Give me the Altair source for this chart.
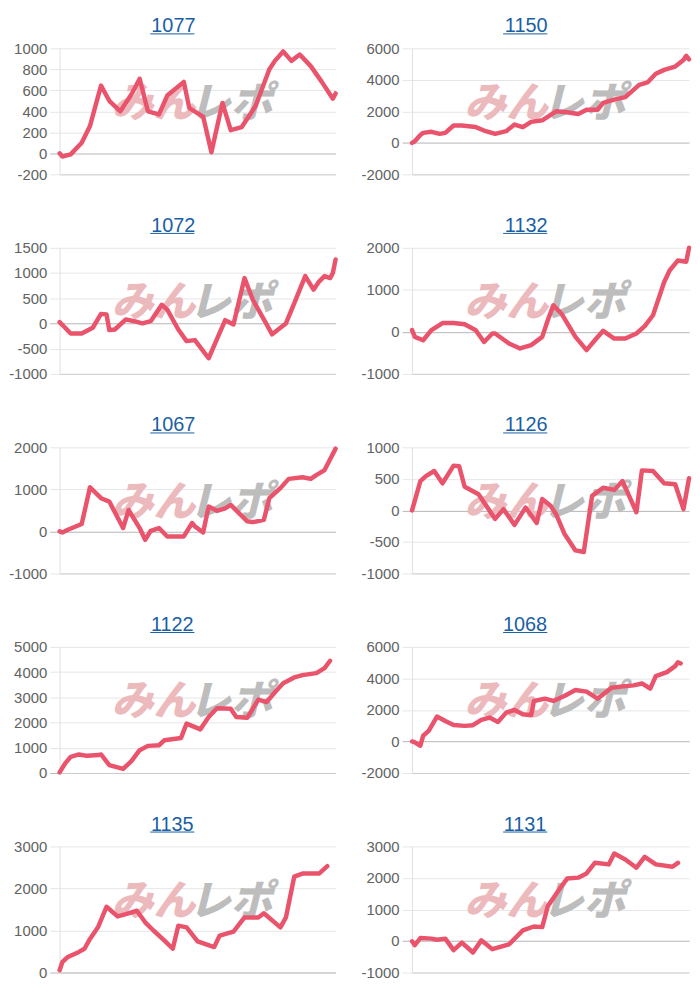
import altair as alt
import pandas as pd

TITLES = ["1077", "1150", "1072", "1132", "1067", "1126", "1122", "1068", "1135", "1131"]

x_1077 = [0, 1, 4, 8, 11, 15, 18, 22, 26, 29, 32, 36, 39, 45, 47, 52, 55, 59, 62, 66, 71, 76, 78, 81, 84, 87, 91, 95, 99, 100]
y_1077 = [0, -30, -10, 100, 260, 645, 500, 400, 560, 710, 400, 370, 550, 680, 430, 350, 10, 480, 220, 250, 450, 800, 880, 970, 880, 940, 830, 680, 520, 570]

x_1150 = [0, 1, 3, 4, 7, 10, 12, 15, 18, 23, 26, 30, 34, 37, 40, 43, 47, 52, 56, 60, 63, 67, 69, 73, 77, 82, 85, 88, 91, 95, 98, 99, 100]
y_1150 = [0, 100, 500, 630, 700, 570, 630, 1100, 1100, 1000, 780, 570, 740, 1160, 990, 1330, 1430, 2000, 1940, 1830, 2100, 2100, 2530, 2740, 2900, 3680, 3830, 4380, 4630, 4840, 5260, 5520, 5300]

x_1072 = [0, 2, 4, 8, 12, 15, 17, 18, 20, 24, 27, 30, 33, 37, 39, 43, 46, 49, 54, 57, 60, 63, 67, 70, 74, 77, 80, 82, 85, 89, 92, 94, 96, 98, 99, 100]
y_1072 = [25, -85, -200, -200, -85, 190, 180, -130, -120, 80, 45, 0, 45, 370, 275, -120, -350, -330, -690, -310, 65, -20, 900, 470, 80, -215, -85, 0, 400, 940, 670, 830, 940, 900, 1000, 1270]

x_1132 = [0, 1, 4, 7, 11, 15, 19, 23, 26, 29, 30, 35, 39, 43, 47, 49, 51, 54, 59, 63, 66, 69, 73, 77, 81, 84, 87, 91, 93, 96, 99, 100]
y_1132 = [40, -120, -200, 40, 210, 210, 180, 40, -240, -40, -40, -275, -395, -315, -120, 275, 630, 430, -120, -435, -200, 25, -160, -160, -40, 135, 395, 1180, 1460, 1700, 1670, 2000]

x_1067 = [0, 1, 3, 8, 11, 15, 18, 23, 25, 29, 31, 33, 36, 39, 45, 48, 49, 52, 54, 57, 60, 62, 68, 70, 74, 76, 80, 83, 88, 91, 93, 96, 100]
y_1067 = [0, -25, 40, 175, 1050, 790, 710, 80, 510, 80, -200, 15, 80, -120, -120, 200, 120, -25, 590, 490, 550, 630, 240, 220, 275, 790, 1030, 1250, 1290, 1250, 1340, 1460, 1970]

x_1126 = [0, 3, 5, 8, 11, 15, 17, 19, 24, 30, 33, 37, 41, 45, 47, 50, 52, 55, 59, 62, 65, 69, 73, 76, 81, 83, 87, 91, 95, 98, 100]
y_1126 = [0, 465, 545, 625, 430, 710, 700, 375, 255, -135, 20, -230, 45, -200, 180, 75, -60, -370, -635, -660, 230, 360, 325, 465, -30, 635, 625, 430, 415, 20, 510]

x_1122 = [0, 2, 4, 7, 10, 14, 15, 18, 23, 26, 29, 32, 36, 38, 44, 46, 51, 54, 57, 62, 64, 68, 72, 75, 78, 81, 85, 88, 93, 96, 98]
y_1122 = [25, 380, 640, 735, 680, 710, 735, 315, 160, 470, 905, 1075, 1100, 1300, 1390, 1955, 1730, 2220, 2570, 2545, 2220, 2190, 2910, 2810, 3200, 3555, 3790, 3880, 3960, 4160, 4450]

x_1068 = [0, 1, 3, 4, 6, 9, 12, 15, 19, 22, 25, 28, 31, 34, 37, 40, 43, 44, 48, 51, 55, 59, 63, 67, 72, 75, 80, 83, 86, 88, 92, 95, 96, 97]
y_1068 = [0, -60, -270, 360, 670, 1580, 1300, 1050, 990, 1030, 1370, 1515, 1240, 1830, 2000, 1730, 1660, 2570, 2715, 2570, 2880, 3260, 3160, 2715, 3410, 3470, 3560, 3680, 3350, 4150, 4400, 4780, 5030, 4950]

x_1135 = [0, 1, 3, 7, 9, 11, 14, 17, 21, 24, 28, 31, 34, 38, 41, 43, 46, 50, 56, 58, 63, 67, 72, 74, 80, 82, 85, 88, 94, 97]
y_1135 = [55, 250, 370, 490, 565, 800, 1090, 1565, 1335, 1390, 1470, 1195, 1000, 760, 565, 1115, 1075, 740, 605, 880, 975, 1310, 1310, 1410, 1075, 1310, 2280, 2355, 2355, 2530]

x_1131 = [0, 1, 3, 7, 9, 12, 15, 18, 22, 25, 29, 35, 40, 44, 47, 49, 53, 56, 60, 63, 66, 71, 73, 77, 81, 84, 88, 94, 96]
y_1131 = [-10, -135, 95, 75, 40, 75, -290, -50, -365, 20, -260, -105, 335, 460, 440, 1100, 1620, 1980, 2010, 2145, 2480, 2430, 2775, 2585, 2325, 2670, 2430, 2355, 2480]

SERIES_X = [x_1077, x_1150, x_1072, x_1132, x_1067, x_1126, x_1122, x_1068, x_1135, x_1131]
SERIES_Y = [y_1077, y_1150, y_1072, y_1132, y_1067, y_1126, y_1122, y_1068, y_1135, y_1131]

Y_MIN = [-200, -2000, -1000, -1000, -1000, -1000, 0, -2000, 0, -1000]
Y_MAX = [1000, 6000, 1500, 2000, 2000, 1000, 5000, 6000, 3000, 3000]
Y_STEP = [200, 2000, 500, 1000, 1000, 500, 1000, 2000, 1000, 1000]

WATERMARK = ["みん", "レポ"]

LINE_COLOR = "#e9546c"
TITLE_COLOR = "#1b5fa3"
LABEL_FONT = "Liberation Sans"
PLOT_H = 127
TICK = 10
LPAD = 3
EXT = 51  # y-axis band (ticks + padding + widest label)


def panel(i, left_edge, right_edge):
    ticks = list(range(Y_MIN[i], Y_MAX[i] + 1, Y_STEP[i]))
    w = round(right_edge - left_edge - EXT)
    df = pd.DataFrame({"x": SERIES_X[i], "y": SERIES_Y[i]})

    grid_cond = {"condition": {"test": "datum.value === 0", "value": "#b5b5b5"}, "value": "#e6e6e6"}
    xenc = alt.X("x:Q", scale=alt.Scale(domain=[0, 100], nice=False, zero=False),
                 axis=alt.Axis(labels=False, ticks=False, grid=False, domain=True,
                               domainColor="#cfcfcf", title=None))
    yenc = alt.Y("y:Q", scale=alt.Scale(domain=[Y_MIN[i], Y_MAX[i]], nice=False, zero=False),
                 axis=alt.Axis(values=ticks, title=None, labelFont=LABEL_FONT, labelFontSize=15,
                               labelColor="#626262", labelPadding=LPAD, tickSize=TICK,
                               tickColor=grid_cond, gridColor=grid_cond, domainColor="#e0e0e0",
                               minExtent=EXT, maxExtent=EXT,
                               labelExpr="'' + datum.value", labelFlush=False, labelOverlap=False))

    line = alt.Chart(df).mark_line(color=LINE_COLOR, strokeWidth=4.5, strokeJoin="round",
                                   strokeCap="round").encode(x=xenc, y=yenc)

    wm_df = pd.DataFrame({"t": WATERMARK})
    wm1 = alt.Chart(wm_df).transform_filter(alt.datum.t == WATERMARK[0]).mark_text(
        font="Noto Sans CJK JP", fontSize=42, fontWeight=900, fontStyle="italic",
        color="#ecbabd", baseline="middle", align="center").encode(
        text="t:N", x=alt.value(0.34 * w), y=alt.value(0.44 * PLOT_H))
    wm2 = alt.Chart(wm_df).transform_filter(alt.datum.t == WATERMARK[1]).mark_text(
        font="Noto Sans CJK JP", fontSize=42, fontWeight=900, fontStyle="italic",
        color="#bdbdbd", baseline="middle", align="center").encode(
        text="t:N", x=alt.value(0.62 * w), y=alt.value(0.44 * PLOT_H))

    cx = (w - EXT) / 2
    half = len(TITLES[i]) * 0.556 * 20 / 2
    ul = alt.Chart(pd.DataFrame({"t": [TITLES[i]]})).mark_rule(color=TITLE_COLOR, strokeWidth=1).encode(
        x=alt.value(cx - half), x2=alt.value(cx + half), y=alt.value(-14.5))

    return alt.layer(wm1, wm2, line, ul).properties(
        width=w, height=PLOT_H,
        title=alt.TitleParams(text=TITLES[i], fontSize=20, font=LABEL_FONT, fontWeight="normal",
                              color=TITLE_COLOR, anchor="middle", frame="bounds", offset=-3))


panels = []
for r in range(5):
    panels.append(panel(2 * r, 8, 337))
    panels.append(panel(2 * r + 1, 359, 689))

chart = alt.concat(*panels, columns=2, spacing={"row": 34, "column": 22}).properties(
    padding={"left": 0, "top": 5, "right": 0, "bottom": 0}
).configure_view(stroke=None)

chart.save("out.html", embed_options={"renderer": "svg", "actions": False})
